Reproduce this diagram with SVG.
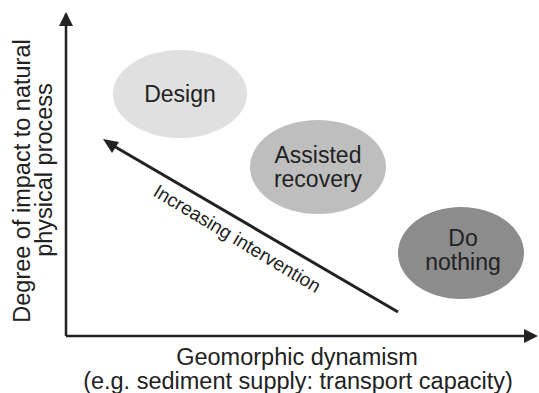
<svg xmlns="http://www.w3.org/2000/svg" width="539" height="393" viewBox="0 0 539 393">
<defs>
<style>
text{font-family:"Liberation Sans",Arial,sans-serif;fill:#222;}
.lbl{font-size:23px;text-anchor:middle;}
.ax{font-size:23.5px;text-anchor:middle;}
.line{stroke:#222;fill:none;}
</style>
</defs>
<rect width="539" height="393" fill="#fff"/>
<g id="connectors">
<path class="line" d="M66,336 V14" stroke-width="2.5"/>
<path d="M59,26 L66,12 L73,26 Z" fill="#222"/>
<path class="line" d="M66,336 H526" stroke-width="2.5"/>
<path d="M524,329 L538,336 L524,343 Z" fill="#222"/>
<path class="line" d="M398,312 L112,145" stroke-width="3"/>
<path d="M103,139 L119,142 L112,153 Z" fill="#222"/>
<text transform="translate(152,195) rotate(31)" style="font-size:19px">Increasing intervention</text>
</g>
<g id="design">
<ellipse cx="180" cy="94" rx="67" ry="44" fill="#e0e0e0"/>
<text class="lbl" x="180" y="102">Design</text>
</g>
<g id="assisted">
<ellipse cx="318" cy="167" rx="68" ry="47" fill="#bebebe"/>
<text class="lbl" x="318" y="163">Assisted</text>
<text class="lbl" x="318" y="187">recovery</text>
</g>
<g id="donothing">
<ellipse cx="461" cy="253" rx="63" ry="46" fill="#8c8c8c"/>
<text class="lbl" x="463" y="246">Do</text>
<text class="lbl" x="463" y="270">nothing</text>
</g>
<g id="axis-labels">
<text class="ax" transform="translate(30,181) rotate(-90)">Degree of impact to natural</text>
<text class="ax" transform="translate(52,170) rotate(-90)">physical process</text>
<text class="ax" x="297" y="365">Geomorphic dynamism</text>
<text class="ax" x="298" y="389">(e.g. sediment supply: transport capacity)</text>
</g>
</svg>
